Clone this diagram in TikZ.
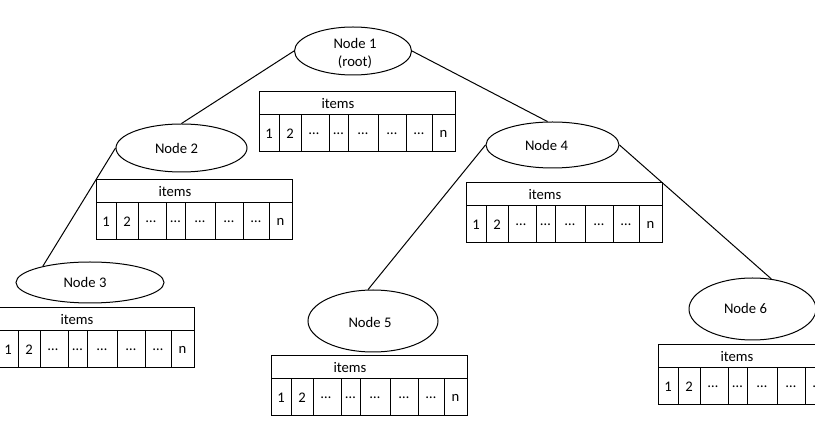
\documentclass[tikz,border=0pt]{standalone}
\usepackage{fontspec}
\setmainfont{Carlito}
\usetikzlibrary{shapes.geometric}

% A record of items: a header row and eight cells underneath
\tikzset{
  itembox/.pic={
    \draw[boxline] (0,0) rectangle (196,60);
    \draw[boxline] (0,23) -- (196,23);
    \foreach \xd in {20,42,70,89,119,147,173}
      \draw[boxline] (\xd,23) -- (\xd,60);
    \node (-items) at (79,11.5) {items};
    \foreach \xa/\xb/\lbl [count=\k] in {0/20/1, 20/42/2, 42/68/…, 70/89/…,
        89/119/…, 119/147/…, 147/173/…, 173/196/n}
      \node (-c\k) at ({(\xa+\xb)/2},41.5) {\lbl};
  }
}

\begin{document}
\begin{tikzpicture}[x=1pt,y=-1pt,
  every node/.style={font=\fontsize{14.67}{18}\selectfont, text=black},
  treenode/.style={ellipse, draw, line width=1pt, inner sep=0pt},
  edge/.style={draw, line width=1pt},
  boxline/.style={line width=1pt}]
  \useasboundingbox (0,0) rectangle (815,435);
  \clip (0,0) rectangle (815,435);
  \fill[white] (0,0) rectangle (815,435);

  % tree nodes (outlines)
  \node[treenode, minimum width=117pt, minimum height=48pt] (n1) at (353,51) {};
  \node[treenode, minimum width=131pt, minimum height=48pt] (n2) at (181.5,148) {};
  \node[treenode, minimum width=148pt, minimum height=41pt] (n3) at (90,282.5) {};
  \node[treenode, minimum width=133pt, minimum height=46pt] (n4) at (552.5,145) {};
  \node[treenode, minimum width=130pt, minimum height=62pt] (n5) at (373,321) {};
  \node[treenode, minimum width=127pt, minimum height=62pt] (n6) at (752.5,309) {};

  % tree node captions
  \node[align=center] (t1) at ([xshift=2pt,yshift=-2pt]n1.center) {Node 1\\(root)};
  \node (t2) at ([xshift=-5pt]n2.center) {Node 2};
  \node (t3) at ([xshift=-5pt]n3.center) {Node 3};
  \node (t4) at ([xshift=-6pt]n4.center) {Node 4};
  \node (t5) at ([xshift=-3pt,yshift=-1pt]n5.center) {Node 5};
  \node (t6) at ([xshift=-7pt,yshift=1pt]n6.center) {Node 6};

  % item records
  \pic (b1) at (259,92) {itembox};
  \pic (b2) at (96,180) {itembox};
  \pic (b3) at (-2,308) {itembox};
  \pic (b4) at (466,183) {itembox};
  \pic (b5) at (271,356) {itembox};
  \pic (b6) at (658,345) {itembox};

  % parent-child links
  \draw[edge] (n1.west) -- (n2.north);
  \draw[edge] (n1.east) -- (n4.102);
  \draw[edge] (n2.west) -- (n3.161);
  \draw[edge] (n4.west) -- (n5.99);
  \draw[edge] (n4.east) -- (n6.58);
\end{tikzpicture}
\end{document}
